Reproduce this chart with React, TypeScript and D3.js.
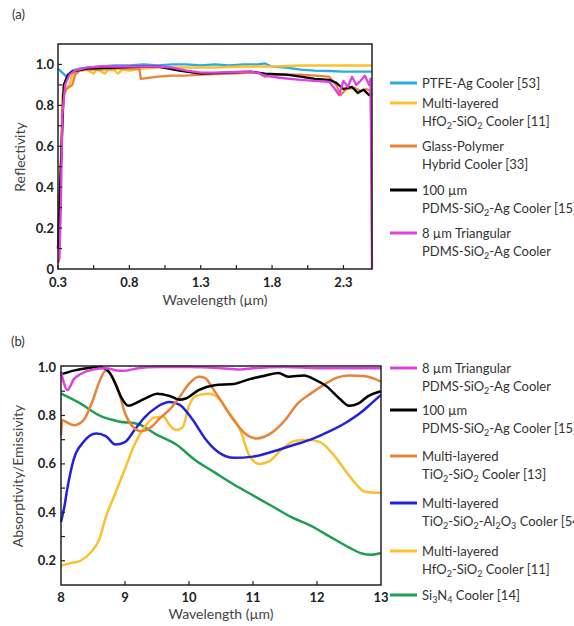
import React from 'react';
import * as d3 from 'd3';

// ---- panel (a): reflectivity, wavelength in µm ----
const ptfeAg = [[0.3,0.98],[0.33,0.96],[0.36,0.94],[0.4,0.97],[0.45,0.98],[0.5,0.985],[0.6,0.99],[0.7,0.995],[0.8,0.995],[0.9,1.0],[1.0,0.995],[1.1,1.0],[1.2,1.0],[1.3,0.995],[1.4,1.0],[1.5,0.995],[1.6,1.0],[1.7,1.0],[1.75,1.005],[1.8,0.99],[1.9,0.985],[2.0,0.975],[2.1,0.97],[2.2,0.968],[2.3,0.965],[2.4,0.965],[2.5,0.965]];
const hfo2Top = [[0.3,0.37],[0.305,0.15],[0.32,0.5],[0.33,0.85],[0.35,0.88],[0.38,0.9],[0.4,0.95],[0.45,0.97],[0.5,0.975],[0.55,0.955],[0.57,0.975],[0.63,0.955],[0.65,0.975],[0.7,0.97],[0.72,0.955],[0.75,0.975],[0.8,0.97],[0.85,0.975],[0.9,0.98],[1.0,0.985],[1.2,0.985],[1.4,0.985],[1.6,0.99],[1.8,0.99],[2.0,0.995],[2.2,0.995],[2.4,0.995],[2.5,0.995]];
const glassPolymer = [[0.3,0.1],[0.32,0.5],[0.34,0.85],[0.36,0.88],[0.4,0.9],[0.42,0.95],[0.45,0.97],[0.5,0.975],[0.6,0.975],[0.7,0.98],[0.8,0.98],[0.87,0.98],[0.88,0.93],[1.0,0.94],[1.1,0.945],[1.2,0.945],[1.3,0.95],[1.5,0.955],[1.7,0.96],[1.75,0.94],[1.8,0.945],[1.9,0.95],[2.0,0.95],[2.1,0.945],[2.2,0.94],[2.25,0.9],[2.28,0.85],[2.32,0.88],[2.38,0.885],[2.42,0.87],[2.46,0.88],[2.49,0.87],[2.495,0.68]];
const pdms100Top = [[0.3,0.1],[0.32,0.5],[0.34,0.9],[0.37,0.95],[0.4,0.965],[0.5,0.98],[0.7,0.985],[0.9,0.99],[1.0,0.99],[1.15,0.97],[1.3,0.955],[1.5,0.96],[1.65,0.965],[1.75,0.955],[1.9,0.95],[2.0,0.94],[2.1,0.93],[2.2,0.925],[2.25,0.91],[2.3,0.88],[2.36,0.89],[2.4,0.86],[2.44,0.877],[2.48,0.85],[2.5,0.86]];
const tri8Top = [[0.3,0.03],[0.31,0.05],[0.32,0.3],[0.33,0.75],[0.35,0.9],[0.38,0.95],[0.42,0.97],[0.5,0.985],[0.6,0.99],[0.8,0.99],[1.0,0.99],[1.1,0.985],[1.2,0.97],[1.3,0.96],[1.4,0.96],[1.5,0.962],[1.6,0.965],[1.7,0.96],[1.75,0.945],[1.85,0.935],[2.0,0.925],[2.1,0.92],[2.2,0.915],[2.24,0.88],[2.27,0.85],[2.3,0.92],[2.33,0.89],[2.36,0.94],[2.39,0.9],[2.42,0.92],[2.45,0.945],[2.48,0.9],[2.49,0.93],[2.5,0.0]];

const xTicksA = ['0.3', '0.8', '1.3', '1.8', '2.3'];
const yTicksA = ['0', '0.2', '0.4', '0.6', '0.8', '1.0'];

// ---- panel (b): absorptivity/emissivity, 8-13 µm ----
const tri8Bot = [[8.0,0.98],[8.05,0.93],[8.1,0.905],[8.2,0.95],[8.3,0.97],[8.5,0.99],[8.7,0.995],[8.9,0.985],[9.0,0.985],[9.2,0.995],[9.5,1.0],[10,1.0],[10.5,0.995],[10.8,0.99],[11,0.995],[11.5,1.0],[12,0.995],[12.5,0.995],[13,0.995]];
const pdms100Bot = [[8.0,0.97],[8.2,0.985],[8.4,0.995],[8.6,1.0],[8.75,0.98],[8.85,0.93],[8.95,0.87],[9.05,0.84],[9.2,0.855],[9.35,0.875],[9.5,0.89],[9.7,0.88],[9.85,0.865],[9.95,0.87],[10.15,0.905],[10.4,0.925],[10.7,0.93],[10.95,0.95],[11.2,0.965],[11.4,0.975],[11.55,0.96],[11.8,0.965],[11.95,0.95],[12.15,0.92],[12.35,0.87],[12.5,0.84],[12.65,0.85],[12.8,0.88],[13.0,0.9]];
const tio2Sio2 = [[8.0,0.72],[8.02,0.78],[8.1,0.77],[8.2,0.76],[8.35,0.78],[8.5,0.865],[8.6,0.94],[8.7,0.985],[8.8,0.96],[8.9,0.9],[9.0,0.81],[9.1,0.76],[9.25,0.735],[9.4,0.75],[9.55,0.79],[9.7,0.825],[9.85,0.875],[10.0,0.93],[10.15,0.96],[10.25,0.955],[10.35,0.92],[10.5,0.86],[10.7,0.78],[10.9,0.72],[11.05,0.705],[11.3,0.73],[11.5,0.78],[11.7,0.85],[11.9,0.89],[12.1,0.925],[12.3,0.955],[12.5,0.965],[12.75,0.962],[13.0,0.94]];
const tio2Al2o3 = [[8.0,0.36],[8.05,0.42],[8.1,0.5],[8.2,0.62],[8.35,0.69],[8.55,0.725],[8.7,0.715],[8.85,0.68],[9.0,0.69],[9.15,0.74],[9.3,0.79],[9.5,0.835],[9.7,0.855],[9.85,0.845],[10.05,0.785],[10.25,0.705],[10.45,0.65],[10.7,0.625],[11.0,0.63],[11.3,0.65],[11.6,0.675],[11.9,0.7],[12.2,0.735],[12.45,0.77],[12.7,0.815],[12.85,0.85],[13.0,0.885]];
const hfo2Bot = [[8.0,0.18],[8.15,0.19],[8.3,0.2],[8.45,0.23],[8.6,0.29],[8.7,0.38],[8.85,0.48],[9.0,0.58],[9.15,0.68],[9.3,0.75],[9.45,0.79],[9.6,0.795],[9.7,0.76],[9.8,0.74],[9.9,0.75],[10.0,0.84],[10.1,0.88],[10.3,0.89],[10.45,0.875],[10.6,0.82],[10.8,0.74],[10.95,0.63],[11.1,0.6],[11.25,0.61],[11.45,0.66],[11.65,0.695],[11.85,0.7],[12.05,0.69],[12.25,0.64],[12.45,0.57],[12.6,0.52],[12.75,0.485],[13.0,0.48]];
const si3n4 = [[8.0,0.89],[8.3,0.85],[8.6,0.8],[8.9,0.775],[9.2,0.765],[9.5,0.72],[9.8,0.68],[10.1,0.615],[10.4,0.565],[10.7,0.515],[11.0,0.47],[11.3,0.425],[11.6,0.38],[11.9,0.345],[12.2,0.3],[12.5,0.255],[12.7,0.23],[12.85,0.225],[13.0,0.232]];

const xTicksB = ['8', '9', '10', '11', '12', '13'];
const yTicksB = ['0.2', '0.4', '0.6', '0.8', '1.0'];

const seriesA = [
  { data: ptfeAg, color: '#29ABE2', label: ['PTFE-Ag Cooler [53]'] },
  { data: hfo2Top, color: '#FBC02D', label: ['Multi-layered', 'HfO_2-SiO_2 Cooler [11]'] },
  { data: glassPolymer, color: '#E8833A', label: ['Glass-Polymer', 'Hybrid Cooler [33]'] },
  { data: pdms100Top, color: '#000000', label: ['100 µm', 'PDMS-SiO_2-Ag Cooler [15]'] },
  { data: tri8Top, color: '#E040E0', label: ['8 µm Triangular', 'PDMS-SiO_2-Ag Cooler'] },
];
const legendYA = [83, 103, 146, 190, 233];

const seriesB = [
  { data: tri8Bot, color: '#E040E0', label: ['8 µm Triangular', 'PDMS-SiO_2-Ag Cooler'] },
  { data: pdms100Bot, color: '#000000', label: ['100 µm', 'PDMS-SiO_2-Ag Cooler [15]'] },
  { data: tio2Sio2, color: '#E8833A', label: ['Multi-layered', 'TiO_2-SiO_2 Cooler [13]'] },
  { data: tio2Al2o3, color: '#2222DD', label: ['Multi-layered', 'TiO_2-SiO_2-Al_2O_3 Cooler [54]'] },
  { data: hfo2Bot, color: '#FBC02D', label: ['Multi-layered', 'HfO_2-SiO_2 Cooler [11]'] },
  { data: si3n4, color: '#1E9E50', label: ['Si_3N_4 Cooler [14]'] },
];
const legendYB = [368, 410, 456, 503, 551, 595];
const drawOrderB = [5, 4, 3, 2, 1, 0];

const FONT = 'Lato, "Open Sans", sans-serif';

// "HfO_2" -> HfO with subscript 2
const Rich = ({ text }) => {
  const parts = text.split(/(_\d)/).filter(p => p !== '');
  let prevSub = false;
  return (
    <>
      {parts.map((p, i) => {
        if (p.startsWith('_')) {
          prevSub = true;
          return <tspan key={i} dy={3.5} fontSize={9}>{p.slice(1)}</tspan>;
        }
        const dy = prevSub ? -3.5 : 0;
        prevSub = false;
        return <tspan key={i} dy={dy}>{p}</tspan>;
      })}
    </>
  );
};

const Legend = ({ items, ys }) => (
  <g fontFamily={FONT} fontSize={13} fill="#333">
    {items.map((s, i) => (
      <g key={i}>
        <line x1={390} x2={417} y1={ys[i]} y2={ys[i]} stroke={s.color} strokeWidth={3} />
        {s.label.map((l, j) => (
          <text key={j} x={422} y={ys[i] + j * 18 + 4.5}><Rich text={l} /></text>
        ))}
      </g>
    ))}
  </g>
);

const App = () => {
  // panel a
  const xA = d3.scaleLinear().domain([0.3, 2.5]).range([58, 372]);
  const yA = d3.scaleLinear().domain([0, 1.1]).range([269, 44]);
  const lineA = d3.line().x(d => xA(d[0])).y(d => yA(d[1]));
  const xMinorA = d3.range(0.3, 2.5, 0.25);
  const yMinorA = d3.range(0.1, 1.1, 0.1);

  // panel b
  const xB = d3.scaleLinear().domain([8, 13]).range([61, 381]);
  const yB = d3.scaleLinear().domain([0.1, 1.0]).range([585, 367]);
  const lineB = d3.line().x(d => xB(d[0])).y(d => yB(d[1])).curve(d3.curveMonotoneX);
  const yMinorB = d3.range(0.2, 1.0, 0.1);

  return (
    <svg width={574} height={626} style={{ position: 'absolute', left: 0, top: 0, background: '#fff' }}>
      {/* ---------- (a) ---------- */}
      <text x={12} y={19} fontFamily={FONT} fontSize={13} fill="#333">(a)</text>
      {seriesA.map((s, i) => (
        <path key={i} d={lineA(s.data)} fill="none" stroke={s.color} strokeWidth={2.3} strokeLinejoin="round" />
      ))}
      <rect x={58} y={44} width={314} height={225} fill="none" stroke="#222" strokeWidth={1.5} />
      {xMinorA.map((t, i) => (
        <line key={i} x1={xA(t)} x2={xA(t)} y1={269} y2={265} stroke="#222" strokeWidth={1.2} />
      ))}
      {yMinorA.map((t, i) => (
        <line key={i} x1={58} x2={62} y1={yA(t)} y2={yA(t)} stroke="#222" strokeWidth={1.2} />
      ))}
      <g fontFamily={FONT} fontSize={13} fontWeight="bold" fill="#222">
        {xTicksA.map(t => (
          <text key={t} x={xA(+t)} y={287} textAnchor="middle">{t}</text>
        ))}
        {yTicksA.map(t => (
          <text key={t} x={54} y={yA(+t) + (t === '0' ? 5 : 4.5)} textAnchor="end">{t}</text>
        ))}
      </g>
      <text x={215} y={305} textAnchor="middle" fontFamily={FONT} fontSize={14} fill="#444">Wavelength (µm)</text>
      <text transform="translate(25,157) rotate(-90)" textAnchor="middle" fontFamily={FONT} fontSize={14} fill="#444">Reflectivity</text>
      <Legend items={seriesA} ys={legendYA} />

      {/* ---------- (b) ---------- */}
      <text x={11} y={346} fontFamily={FONT} fontSize={13} fill="#333">(b)</text>
      {drawOrderB.map(i => (
        <path key={i} d={lineB(seriesB[i].data)} fill="none" stroke={seriesB[i].color} strokeWidth={2.5} strokeLinejoin="round" />
      ))}
      <rect x={61} y={366} width={320} height={219} fill="none" stroke="#222" strokeWidth={1.5} />
      {xTicksB.slice(1, -1).map(t => (
        <line key={t} x1={xB(+t)} x2={xB(+t)} y1={585} y2={581} stroke="#222" strokeWidth={1.2} />
      ))}
      {yMinorB.map((t, i) => (
        <line key={i} x1={61} x2={65} y1={yB(t)} y2={yB(t)} stroke="#222" strokeWidth={1.2} />
      ))}
      <g fontFamily={FONT} fontSize={13} fontWeight="bold" fill="#222">
        {xTicksB.map(t => (
          <text key={t} x={xB(+t)} y={602} textAnchor="middle">{t}</text>
        ))}
        {yTicksB.map(t => (
          <text key={t} x={56} y={yB(+t) + 4.5} textAnchor="end">{t}</text>
        ))}
      </g>
      <text x={221} y={619} textAnchor="middle" fontFamily={FONT} fontSize={14} fill="#444">Wavelength (µm)</text>
      <text transform="translate(23,476) rotate(-90)" textAnchor="middle" fontFamily={FONT} fontSize={14} fill="#444">Absorptivity/Emissivity</text>
      <Legend items={seriesB} ys={legendYB} />
    </svg>
  );
};

export default App;
